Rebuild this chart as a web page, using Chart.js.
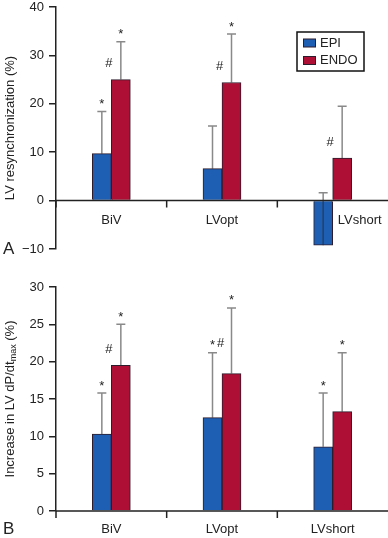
<!DOCTYPE html>
<html>
<head>
<meta charset="utf-8">
<script src="https://cdn.jsdelivr.net/npm/chart.js@4.4.1/dist/chart.umd.min.js"></script>
<style>
  html, body { margin: 0; padding: 0; background: #fff; }
  #wrap { position: relative; width: 388px; height: 538px; overflow: hidden; }
  canvas { position: absolute; left: 0; }
</style>
</head>
<body>
<div id="wrap">
  <canvas id="cA" width="388" height="270" style="top:0px"></canvas>
  <canvas id="cB" width="388" height="268" style="top:270px"></canvas>
</div>
<script>
// ---------- data ----------
const categories = ['BiV', 'LVopt', 'LVshort'];
const seriesNames = ['EPI', 'ENDO'];

// Panel A: LV resynchronization (%)
const resyncEpi = [9.7, 6.6, -9.2];
const resyncEndo = [25.0, 24.4, 8.8];
const resyncEpiErrTop = [18.4, 15.4, 1.6];
const resyncEndoErrTop = [32.8, 34.4, 19.5];
const resyncEpiStar = ['*', '', ''];
const resyncEndoStar = ['*', '*', ''];
const resyncEpiHash = ['', '', ''];
const resyncEndoHash = ['#', '#', '#'];
const resyncTicks = [-10, 0, 10, 20, 30, 40];

// Panel B: Increase in LV dP/dtmax (%)
const dpdtEpi = [10.3, 12.5, 8.6];
const dpdtEndo = [19.5, 18.4, 13.3];
const dpdtEpiErrTop = [15.8, 21.2, 15.8];
const dpdtEndoErrTop = [25.0, 27.2, 21.2];
const dpdtEpiStar = ['*', '*#', '*'];
const dpdtEndoStar = ['*', '*', '*'];
const dpdtEpiHash = ['', '', ''];
const dpdtEndoHash = ['#', '', ''];
const dpdtTicks = [0, 5, 10, 15, 20, 25, 30];

// ---------- style ----------
const FONT = "'Liberation Sans', Arial, Helvetica, sans-serif";
const INK = '#222222';
const BLUE = '#1f5fb3';
const RED = '#ae1035';
const BAR_BORDER = '#2c1c2c';
const ERR_COLOR = 'rgba(40,40,40,0.55)';
Chart.defaults.font.family = FONT;

const overlay = {
  id: 'overlay',
  afterDatasetsDraw(chart, args, o) {
    const ctx = chart.ctx, xs = chart.scales.x, ys = chart.scales.y, ca = chart.chartArea;
    const y0 = ys.getPixelForValue(0);
    const n = chart.data.labels.length;
    const step = xs.getPixelForValue(1) - xs.getPixelForValue(0);
    ctx.save();

    // error bars + annotations
    chart.data.datasets.forEach((ds, di) => {
      const meta = chart.getDatasetMeta(di);
      meta.data.forEach((bar, i) => {
        const cx = bar.x;
        const yv = ys.getPixelForValue(ds.data[i]);
        const ye = ys.getPixelForValue(ds.errTop[i]);
        ctx.strokeStyle = ERR_COLOR;
        ctx.lineWidth = 1.5;
        ctx.beginPath();
        ctx.moveTo(cx, yv); ctx.lineTo(cx, ye);
        ctx.moveTo(cx - 4.5, ye); ctx.lineTo(cx + 4.5, ye);
        ctx.stroke();
        ctx.fillStyle = INK;
        ctx.textBaseline = 'middle';
        ctx.textAlign = 'center';
        const st = ds.star[i];
        if (st) {
          ctx.font = '13px ' + FONT;
          ctx.fillText('*', cx, ye - 7);
          if (st.includes('#')) {
            ctx.font = '13px ' + FONT;
            ctx.fillText('#', cx + 8, ye - 9);
          }
        }
        if (ds.hash[i]) {
          ctx.font = '13px ' + FONT;
          ctx.fillText('#', cx - 12, yv - 16);
        }
      });
    });

    // zero / category axis
    ctx.strokeStyle = INK;
    ctx.lineWidth = 1.5;
    ctx.beginPath();
    ctx.moveTo(ca.left, y0); ctx.lineTo(ca.right, y0);
    for (let i = 0; i < n; i++) {
      const bx = xs.getPixelForValue(i) - step / 2;
      ctx.moveTo(bx, y0); ctx.lineTo(bx, y0 + 7);
    }
    ctx.stroke();

    // category labels
    ctx.fillStyle = INK;
    ctx.font = '13px ' + FONT;
    ctx.textAlign = 'center';
    ctx.textBaseline = 'middle';
    chart.data.labels.forEach((lab, i) => {
      ctx.fillText(lab, xs.getPixelForValue(i) + o.labelShift[i], y0 + o.labelGap);
    });

    // y title (rotated), with optional subscript
    ctx.save();
    const midY = (ca.top + ca.bottom) / 2;
    ctx.translate(o.titleX, midY);
    ctx.rotate(-Math.PI / 2);
    ctx.textAlign = 'left';
    ctx.textBaseline = 'middle';
    let total = 0;
    o.title.forEach(p => { ctx.font = (p.sub ? '9px ' : '13px ') + FONT; total += ctx.measureText(p.t).width; });
    let xp = -total / 2;
    o.title.forEach(p => {
      ctx.font = (p.sub ? '9px ' : '13px ') + FONT;
      ctx.fillText(p.t, xp, p.sub ? 4 : 0);
      xp += ctx.measureText(p.t).width;
    });
    ctx.restore();

    // panel letter
    ctx.font = '17px ' + FONT;
    ctx.textAlign = 'left';
    ctx.textBaseline = 'middle';
    ctx.fillText(o.letter, 3, ca.bottom + o.letterDy);

    // legend
    if (o.legend) {
      const L = o.legend;
      ctx.lineWidth = 1.5;
      ctx.strokeStyle = '#111';
      ctx.strokeRect(L.x, L.y, L.w, L.h);
      chart.data.datasets.forEach((ds, di) => {
        const ry = L.y + 7 + di * 17.5;
        ctx.fillStyle = ds.backgroundColor;
        ctx.fillRect(L.x + 6.5, ry, 12, 8);
        ctx.lineWidth = 1;
        ctx.strokeStyle = BAR_BORDER;
        ctx.strokeRect(L.x + 6.5, ry, 12, 8);
        ctx.fillStyle = INK;
        ctx.font = '13px ' + FONT;
        ctx.textBaseline = 'middle';
        ctx.fillText(ds.label, L.x + 23, ry + 4);
      });
    }
    ctx.restore();
  }
};

function makeChart(id, epi, endo, epiErr, endoErr, epiStar, endoStar, epiHash, endoHash, ticks, pad, ov) {
  return new Chart(document.getElementById(id), {
    type: 'bar',
    data: {
      labels: categories,
      datasets: [
        { label: seriesNames[0], data: epi, errTop: epiErr, star: epiStar, hash: epiHash,
          backgroundColor: BLUE, borderColor: BAR_BORDER, borderWidth: 1, barThickness: 19 },
        { label: seriesNames[1], data: endo, errTop: endoErr, star: endoStar, hash: endoHash,
          backgroundColor: RED, borderColor: BAR_BORDER, borderWidth: 1, barThickness: 19 }
      ]
    },
    options: {
      responsive: false,
      animation: false,
      devicePixelRatio: 1,
      layout: { padding: pad },
      plugins: { legend: { display: false }, tooltip: { enabled: false }, overlay: ov },
      scales: {
        x: { display: false, offset: true },
        y: {
          min: ticks[0], max: ticks[ticks.length - 1],
          afterBuildTicks: s => { s.ticks = ticks.map(v => ({ value: v })); },
          afterFit: s => { s.width = 56; s.paddingTop = 0; s.paddingBottom = 0; },
          border: { display: true, color: INK, width: 1.5 },
          grid: { drawOnChartArea: false, drawTicks: true, tickLength: 7, color: INK, lineWidth: 1.5 },
          ticks: { color: INK, font: { size: 13 }, padding: 5,
                   callback: v => String(v).replace('-', '\u2212') }
        }
      }
    },
    plugins: [overlay]
  });
}

makeChart('cA', resyncEpi, resyncEndo, resyncEpiErrTop, resyncEndoErrTop,
  resyncEpiStar, resyncEndoStar, resyncEpiHash, resyncEndoHash, resyncTicks,
  { top: 7, bottom: 21, left: 0, right: 0 },
  { labelShift: [0, 0, 27], labelGap: 20, titleX: 10, title: [{ t: 'LV resynchronization (%)' }],
    letter: 'A', letterDy: 0, legend: { x: 297, y: 32, w: 67, h: 39 } });

makeChart('cB', dpdtEpi, dpdtEndo, dpdtEpiErrTop, dpdtEndoErrTop,
  dpdtEpiStar, dpdtEndoStar, dpdtEpiHash, dpdtEndoHash, dpdtTicks,
  { top: 17, bottom: 27, left: 0, right: 0 },
  { labelShift: [0, 0, 0], labelGap: 18, titleX: 10,
    title: [{ t: 'Increase in LV dP/dt' }, { t: 'max', sub: true }, { t: ' (%)' }],
    letter: 'B', letterDy: 18, legend: null });
</script>
</body>
</html>
